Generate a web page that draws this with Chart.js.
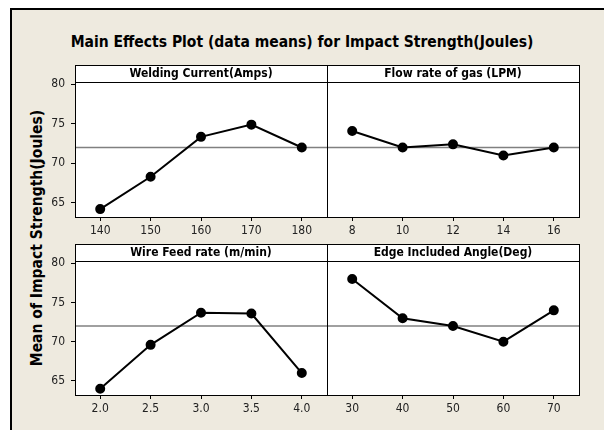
<!DOCTYPE html>
<html>
<head>
<meta charset="utf-8">
<script src="https://cdn.jsdelivr.net/npm/chart.js@4.4.1/dist/chart.umd.min.js"></script>
<style>
  body { margin: 0; background: #fff; }
  #wrap { position: relative; width: 604px; height: 430px; overflow: hidden; }
  #frame { position: absolute; left: 10px; top: 8px; width: 640px; height: 460px;
           background: #eeeadf; border-top: 2px solid #000; border-left: 2px solid #000; }
  canvas { position: absolute; left: 0; top: 0; }
  #title { position: absolute; left: 0; top: 33px; width: 604px; text-align: center;
           font: bold 15.5px "DejaVu Sans Condensed", "DejaVu Sans", sans-serif; color: #000; }
  #ytitle { position: absolute; left: -112px; top: 228px; width: 300px; height: 20px; line-height: 20px;
            text-align: center; transform: rotate(-90deg);
            font: bold 15.5px "DejaVu Sans Condensed", "DejaVu Sans", sans-serif; color: #000; }
</style>
</head>
<body>
<div id="wrap">
  <div id="frame"></div>
  <div id="title">Main Effects Plot (data means) for Impact Strength(Joules)</div>
  <div id="ytitle">Mean of Impact Strength(Joules)</div>
  <canvas id="p1" width="604" height="430"></canvas>
  <canvas id="p2" width="604" height="430"></canvas>
  <canvas id="p3" width="604" height="430"></canvas>
  <canvas id="p4" width="604" height="430"></canvas>
</div>
<script>
// factor levels and level means
const currentLevels = ['140', '150', '160', '170', '180'];
const currentMeans = [64.2, 68.3, 73.35, 74.9, 72.0];

const gasLevels = ['8', '10', '12', '14', '16'];
const gasMeans = [74.1, 72.0, 72.4, 71.0, 72.0];

const wireLevels = ['2.0', '2.5', '3.0', '3.5', '4.0'];
const wireMeans = [64.0, 69.6, 73.7, 73.6, 66.0];

const angleLevels = ['30', '40', '50', '60', '70'];
const angleMeans = [78.0, 73.0, 72.0, 70.0, 74.0];

const grandMean = 72.0;
const yTicks = [65, 70, 75, 80];
const yMin = 63.2;
const yMax = 80.3;

const FONT = '"DejaVu Sans Condensed", "DejaVu Sans", sans-serif';
const HEADER = 17;

// plot boxes of the 2x2 grid
const COLS = [[75, 327], [327, 579]];
const ROWS = [[82, 217], [261, 395]];

// white panel + header box, grand mean line, black outlines
const panelFrame = {
    id: 'panelFrame',
    beforeDraw(chart) {
        const { ctx, chartArea: a } = chart;
        ctx.save();
        ctx.fillStyle = '#fff';
        ctx.fillRect(a.left, a.top - HEADER, a.right - a.left, a.bottom - a.top + HEADER);
        ctx.restore();
    },
    beforeDatasetsDraw(chart) {
        const { ctx, chartArea: a } = chart;
        const y = chart.scales.y.getPixelForValue(grandMean);
        ctx.save();
        ctx.strokeStyle = '#808080';
        ctx.lineWidth = 1.5;
        ctx.beginPath();
        ctx.moveTo(a.left, y);
        ctx.lineTo(a.right, y);
        ctx.stroke();
        ctx.restore();
    },
    afterDraw(chart) {
        const { ctx, chartArea: a } = chart;
        ctx.save();
        ctx.strokeStyle = '#000';
        ctx.lineWidth = 1;
        const l = Math.round(a.left) + 0.5, r = Math.round(a.right) + 0.5;
        const t = Math.round(a.top) + 0.5, b = Math.round(a.bottom) + 0.5;
        ctx.strokeRect(l, t - HEADER, r - l, b - t + HEADER);
        ctx.beginPath();
        ctx.moveTo(l, t);
        ctx.lineTo(r, t);
        ctx.stroke();
        ctx.restore();
    }
};

function panel(id, title, levels, means, col, row) {
    const [left, right] = COLS[col];
    const [top, bottom] = ROWS[row];
    const pad = { left: left - 35, right: 604 - right, top: top - HEADER, bottom: 430 - bottom - 25 };
    const chart = new Chart(document.getElementById(id), {
        type: 'line',
        data: {
            labels: levels,
            datasets: [{
                data: means,
                borderColor: '#000',
                backgroundColor: '#000',
                borderWidth: 2,
                pointRadius: 4,
                pointHoverRadius: 4,
                tension: 0
            }]
        },
        options: {
            responsive: false,
            animation: false,
            events: [],
            layout: { padding: pad },
            plugins: {
                legend: { display: false },
                tooltip: { enabled: false },
                title: {
                    display: true,
                    text: title,
                    fullSize: false,
                    color: '#000',
                    font: { family: FONT, size: 12, weight: 'bold', lineHeight: 1.2 },
                    padding: { top: 1.8, bottom: 0.8 }
                }
            },
            scales: {
                x: {
                    type: 'category',
                    offset: true,
                    border: { display: false },
                    grid: { drawOnChartArea: false, drawTicks: true, tickLength: 4, color: '#000' },
                    ticks: { color: '#222', font: { family: FONT, size: 12 }, padding: 3, maxRotation: 0, autoSkip: false },
                    afterFit(s) { s.height = 25; }
                },
                y: {
                    display: col === 0,
                    min: yMin,
                    max: yMax,
                    border: { display: false },
                    grid: { drawOnChartArea: false, drawTicks: true, tickLength: 4, color: '#000' },
                    ticks: { color: '#222', font: { family: FONT, size: 12 }, padding: 6 },
                    afterBuildTicks(s) { s.ticks = yTicks.map(v => ({ value: v })); },
                    afterFit(s) { if (col === 0) s.width = 35; }
                }
            }
        },
        plugins: [panelFrame]
    });

    // nudge the layout padding until the plot area sits on its grid cell
    for (let i = 0; i < 4; i++) {
        const a = chart.chartArea;
        const dl = left - a.left, dr = a.right - right, dt = top - a.top, db = a.bottom - bottom;
        if (Math.abs(dl) + Math.abs(dr) + Math.abs(dt) + Math.abs(db) < 0.5) break;
        pad.left += dl; pad.right += dr; pad.top += dt; pad.bottom += db;
        chart.options.layout.padding = pad;
        chart.update('none');
    }
    return chart;
}

panel('p1', 'Welding Current(Amps)', currentLevels, currentMeans, 0, 0);
panel('p2', 'Flow rate of gas (LPM)', gasLevels, gasMeans, 1, 0);
panel('p3', 'Wire Feed rate (m/min)', wireLevels, wireMeans, 0, 1);
panel('p4', 'Edge Included Angle(Deg)', angleLevels, angleMeans, 1, 1);
</script>
</body>
</html>
